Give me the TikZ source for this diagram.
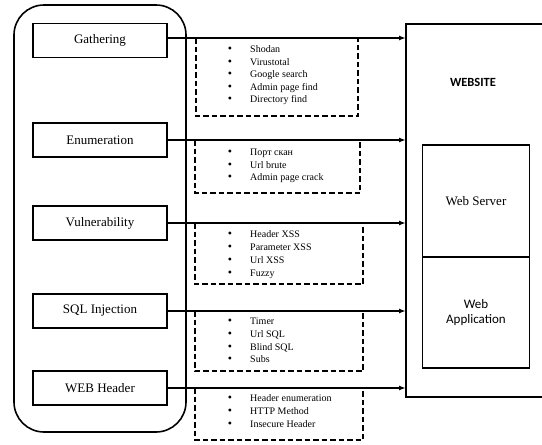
\documentclass[tikz,border=0pt]{standalone}
\usepackage{fontspec}
\setmainfont{Liberation Serif}
\newfontfamily\calib{Carlito}
\usetikzlibrary{arrows.meta}
\tikzset{
  stagebox/.style={draw, line width=1.6pt, minimum width=134pt, minimum height=34pt, inner sep=0pt},
  stagetext/.style={inner sep=0pt, scale=1.3},
  listbox/.style={draw, line width=1.6pt, dash pattern=on 5.5pt off 3pt},
  flow/.style={line width=1.6pt, -{Latex[length=7pt,width=5pt]}},
  item/.style={anchor=base west, inner sep=0pt},
  bul/.style={anchor=base, inner sep=0pt, scale=1.2},
  innerbox/.style={draw, line width=1.6pt, minimum width=107pt, inner sep=0pt},
}
\newcommand\mylist[4]{% name, first baseline, step, items
  \foreach \t [count=\i] in {#4} {
    \node[bul] (#1b\i) at (230, {#2+(\i-1)*#3}) {\textbullet};
    \node[item] (#1t\i) at (250, {#2+(\i-1)*#3}) {\t};
  }
}
\begin{document}
\fontsize{10}{12}\selectfont
\begin{tikzpicture}[x=1pt,y=-1pt]
\useasboundingbox (0,0) rectangle (542,445);
% outer rounded container
\draw[line width=1.6pt, rounded corners=30pt] (14,5) rectangle (186,432);
% stage boxes
\node[stagebox] (gat) at (100,40.5) {};
\node[stagetext] (gatl) at (gat) {Gathering};
\node[stagebox] (enu) at (100,140) {};
\node[stagetext] (enul) at (enu) {Enumeration};
\node[stagebox] (vul) at (100,223) {};
\node[stagetext] (vull) at (vul) {Vulnerability};
\node[stagebox] (sql) at (100,311) {};
\node[stagetext] (sqll) at (sql) {SQL Injection};
\node[stagebox] (web) at (100,388) {};
\node[stagetext] (webl) at (web) {WEB Header};
% website
\draw[line width=1.6pt] (560,24) -- (406,24) -- (406,397) -- (560,397);
\coordinate (wsl) at (406,0);
\node[font=\calib\bfseries, scale=1.25] (wst) at (473,82) {WEBSITE};
\node[innerbox, minimum height=112pt] (srv) at (476,201) {};
\node[stagetext] (srvl) at (srv) {Web Server};
\node[innerbox, minimum height=111pt] (app) at (476,312.5) {};
\node[align=center, font=\calib, scale=1.3, inner sep=0pt] (appl) at (app) {Web\\Application};
% dashed list boxes
\draw[listbox] (196,38) rectangle (358,116);
\draw[listbox] (195,140) rectangle (360,193);
\draw[listbox] (195,223) rectangle (363,284);
\draw[listbox] (195,311) rectangle (363,371);
\draw[listbox] (195,388) rectangle (363,440);
% arrows
\draw[flow] (gat.east |- 0,38) -- (wsl |- 0,38);
\draw[flow] (enu.east) -- (wsl |- enu.east);
\draw[flow] (vul.east) -- (wsl |- vul.east);
\draw[flow] (sql.east) -- (wsl |- sql.east);
\draw[flow] (web.east) -- (wsl |- web.east);
% lists
\mylist{g}{52.5}{12.6}{Shodan,Virustotal,Google search,Admin page find,Directory find}
\mylist{e}{155.5}{12.5}{Порт скан,Url brute,Admin page crack}
\mylist{v}{237}{13}{Header XSS,Parameter XSS,Url XSS,Fuzzy}
\mylist{s}{324.5}{12.8}{Timer,Url SQL,Blind SQL,Subs}
\mylist{w}{401.5}{12.8}{Header enumeration,HTTP Method,Insecure Header}
\end{tikzpicture}
\end{document}
